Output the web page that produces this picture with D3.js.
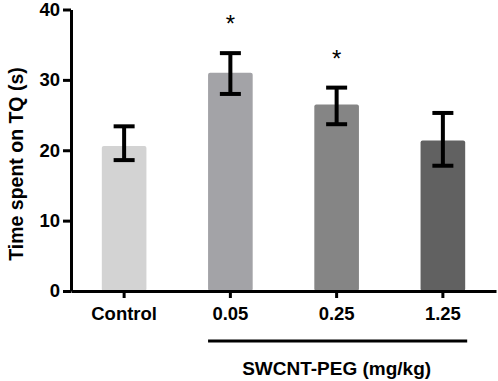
<!DOCTYPE html>
<html>
<head>
<meta charset="utf-8">
<script src="https://cdn.jsdelivr.net/npm/d3@7"></script>
<style>
  body { margin: 0; background: #fff; }
  svg { display: block; font-family: "Liberation Sans", Arial, sans-serif; }
  .axis path, .axis line { stroke: #000; stroke-width: 3; }
  .axis text { font-size: 18.5px; font-weight: bold; fill: #000; }
</style>
</head>
<body>
<svg id="chart"></svg>
<script>
// data
const groups = ["Control", "0.05", "0.25", "1.25"];
const means = [20.6, 31.0, 26.5, 21.4];
const errHigh = [23.4, 33.8, 28.9, 25.3];
const errLow = [18.6, 28.0, 23.7, 17.8];
const signif = [false, true, true, false];
const fills = ["#d3d3d3", "#a3a3a7", "#858585", "#616161"];
const yTicks = [0, 10, 20, 30, 40];

const width = 498;
const height = 381;

const svg = d3.select('svg#chart').attr('width', width).attr('height', height)

const x = d3.scaleBand()
  .domain(groups)
  .range([71, 496])
  .paddingInner(0.58)
  .paddingOuter(0.29)

const y = d3.scaleLinear()
  .domain([0, 40])
  .range([291, 9.5])

// bars
svg.selectAll('rect.bar').data(groups)
  .enter().append('rect')
  .attr('class', 'bar')
  .attr('x', d => x(d))
  .attr('width', x.bandwidth())
  .attr('y', (d, i) => y(means[i]))
  .attr('height', (d, i) => y(0) - y(means[i]))
  .attr('rx', 2)
  .attr('fill', (d, i) => fills[i])

// error bars
const capW = 21;
const eb = svg.selectAll('g.err').data(groups).enter().append('g').attr('class', 'err')
eb.append('line')
  .attr('x1', d => x(d) + x.bandwidth() / 2).attr('x2', d => x(d) + x.bandwidth() / 2)
  .attr('y1', (d, i) => y(errHigh[i])).attr('y2', (d, i) => y(errLow[i]))
  .attr('stroke', '#000').attr('stroke-width', 4)
eb.append('line')
  .attr('x1', d => x(d) + x.bandwidth() / 2 - capW / 2).attr('x2', d => x(d) + x.bandwidth() / 2 + capW / 2)
  .attr('y1', (d, i) => y(errHigh[i])).attr('y2', (d, i) => y(errHigh[i]))
  .attr('stroke', '#000').attr('stroke-width', 4)
eb.append('line')
  .attr('x1', d => x(d) + x.bandwidth() / 2 - capW / 2).attr('x2', d => x(d) + x.bandwidth() / 2 + capW / 2)
  .attr('y1', (d, i) => y(errLow[i])).attr('y2', (d, i) => y(errLow[i]))
  .attr('stroke', '#000').attr('stroke-width', 4)

// significance stars
svg.selectAll('text.star').data(groups.filter((d, i) => signif[i]))
  .enter().append('text')
  .attr('class', 'star')
  .attr('x', d => x(d) + x.bandwidth() / 2)
  .attr('y', d => y(errHigh[groups.indexOf(d)]) - 21)
  .attr('text-anchor', 'middle')
  .style('font-size', '24px')
  .text('*')

// axes
const yAxis = d3.axisLeft(y).tickValues(yTicks).tickSize(8).tickPadding(3).tickSizeOuter(0)
svg.append('g').attr('class', 'axis').attr('transform', 'translate(71,0)').call(yAxis)

const xAxis = d3.axisBottom(x).tickSize(7).tickPadding(9).tickSizeOuter(0)
svg.append('g').attr('class', 'axis').attr('transform', 'translate(0,291)').call(xAxis)
  .selectAll('text').attr('dy', '0.71em')

// dose bracket
svg.append('line')
  .attr('x1', x("0.05")).attr('x2', x("1.25") + x.bandwidth() + 2)
  .attr('y1', 341).attr('y2', 341)
  .attr('stroke', '#000').attr('stroke-width', 3)

svg.append('text')
  .attr('x', (x("0.05") + x("1.25") + x.bandwidth()) / 2)
  .attr('y', 375)
  .attr('text-anchor', 'middle')
  .style('font-size', '19px').style('font-weight', 'bold')
  .text('SWCNT-PEG (mg/kg)')

// y label
svg.append('text')
  .attr('transform', 'translate(23,164) rotate(-90)')
  .attr('text-anchor', 'middle')
  .style('font-size', '19.5px').style('font-weight', 'bold')
  .text('Time spent on TQ (s)')
</script>
</body>
</html>
